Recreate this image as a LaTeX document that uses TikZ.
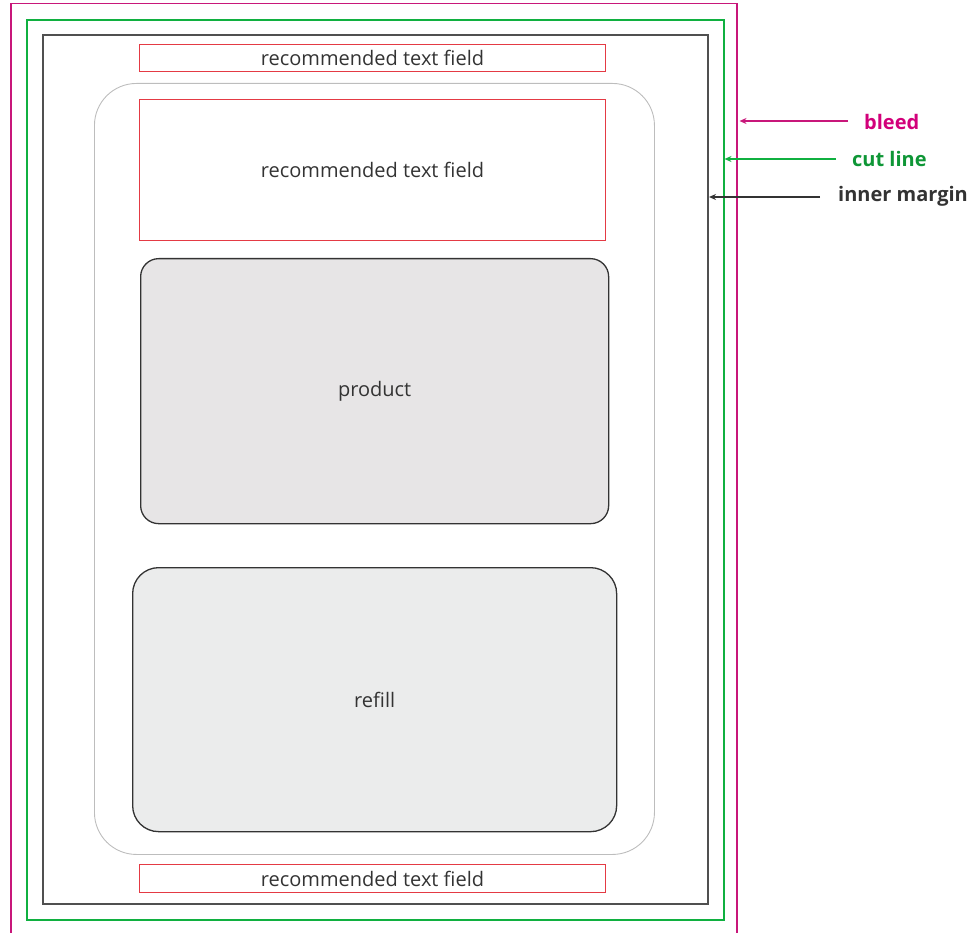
\documentclass[tikz,border=0pt]{standalone}
\usepackage{fontspec}
\setmainfont{Open Sans}
\usetikzlibrary{arrows.meta}
\definecolor{bleedc}{HTML}{C8177A}
\definecolor{bleedt}{HTML}{D2007A}
\definecolor{cutc}{HTML}{10B040}
\definecolor{innerc}{HTML}{505050}
\definecolor{fieldc}{HTML}{E43A44}
\definecolor{roundc}{HTML}{BDBDBD}
\definecolor{prodfill}{HTML}{E7E5E6}
\definecolor{refillfill}{HTML}{EBECEC}
\definecolor{boxline}{HTML}{333333}
\definecolor{textc}{HTML}{333333}
\tikzset{
  x=1pt,y=-1pt,
  field/.style={draw=fieldc,line width=1pt,minimum width=466pt,inner sep=0pt,font=\fontsize{20}{22}\selectfont,text=textc},
  itembox/.style={draw=boxline,line width=1.3pt,inner sep=0pt,font=\fontsize{20}{22}\selectfont,text=textc},
  lab/.style={font=\fontsize{20}{22}\selectfont\bfseries,anchor=west,inner sep=0pt},
  pointer/.style={-{Stealth[length=7pt,width=6pt]},line width=1.2pt}
}
\begin{document}
\begin{tikzpicture}
\useasboundingbox (0,0) rectangle (979,933);
% frames
\draw[bleedc,line width=1.5pt] (11,960) -- (11,3.5) -- (737,3.5) -- (737,960);
\node[draw=cutc,line width=2pt,minimum width=696.5pt,minimum height=900pt,inner sep=0pt,anchor=north west] (cut) at (26,19) {};
\node[draw=innerc,line width=2pt,minimum width=665pt,minimum height=869pt,inner sep=0pt,anchor=north west] (inner) at (41.5,34) {};
% rounded container
\node[draw=roundc,line width=0.9pt,rounded corners=42pt,minimum width=560pt,minimum height=771pt,inner sep=0pt,anchor=north west] (cont) at (94,83) {};
% text fields
\node[field,minimum height=27pt,anchor=north west] (f1) at (139,44) {recommended text field};
\node[field,minimum height=141pt,anchor=north west] (f2) at (139,99) {recommended text field};
\node[field,minimum height=28pt,anchor=north west] (f3) at (139,864) {recommended text field};
% product and refill
\node[itembox,fill=prodfill,rounded corners=18pt,minimum width=468pt,minimum height=265pt,anchor=north west] (prod) at (140,258) {product};
\node[itembox,fill=refillfill,rounded corners=26pt,minimum width=484pt,minimum height=264pt,anchor=north west] (refill) at (132,567) {refill};
% labels
\node[lab,text=bleedt] (lb) at (864,122) {bleed};
\node[lab,text=cutc!85!black] (lc) at (852,159) {cut line};
\node[lab,text=textc] (li) at (838,196) {inner margin};
\coordinate (pb) at (739.5,121);
\coordinate (pc) at (724.5,159);
\coordinate (pi) at (709,197);
\draw[pointer,bleedc] ([xshift=-16pt]lb.west |- pb) -- (pb);
\draw[pointer,cutc] ([xshift=-16pt]lc.west |- pc) -- (pc);
\draw[pointer,textc] ([xshift=-18pt]li.west |- pi) -- (pi);
\end{tikzpicture}
\end{document}
